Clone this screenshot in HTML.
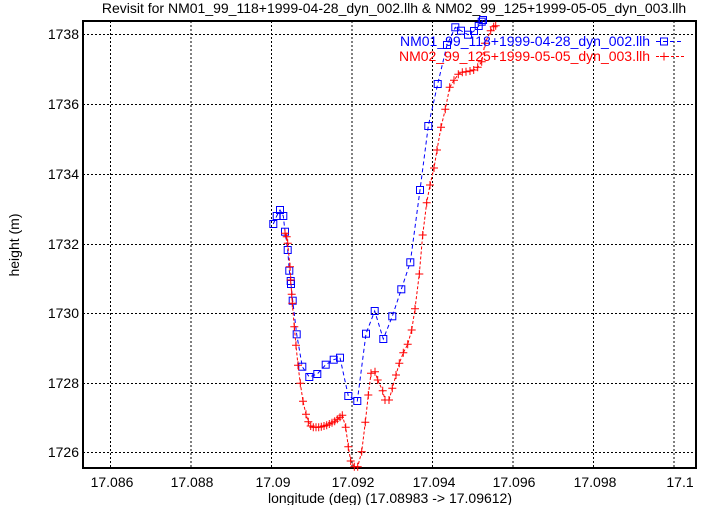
<!DOCTYPE html>
<html><head><meta charset="utf-8"><style>
body{margin:0;background:#fff}
svg{display:block;font-family:"Liberation Sans",sans-serif}
</style></head><body>
<svg width="721" height="505" viewBox="0 0 721 505">
<defs>
<symbol id="sq" overflow="visible"><rect x="-3.5" y="-3.5" width="7" height="7" fill="none" stroke="#0000ff" stroke-width="1"/></symbol>
<symbol id="cr" overflow="visible"><path d="M-4 0H4M0 -4V4" stroke="#ff0000" stroke-width="1"/></symbol>
</defs>
<g stroke="#000" stroke-width="1" stroke-dasharray="2,2" fill="none">
<path d="M110.5 21V468M191 21V468M271.5 21V468M352 21V468M432.5 21V468M513 21V468M593.5 21V468M674 21V468"/>
<path d="M83 34.5H696M83 104.5H696M83 174.5H696M83 244.5H696M83 313.5H696M83 383.5H696M83 452.5H696"/>
</g>
<rect x="83" y="21" width="613" height="447" fill="none" stroke="#000" stroke-width="2"/>
<g font-size="14" text-anchor="end">
<text x="79" y="39">1738</text><text x="79" y="109">1736</text><text x="79" y="179">1734</text><text x="79" y="249">1732</text><text x="79" y="318">1730</text><text x="79" y="388">1728</text><text x="79" y="457">1726</text>
</g>
<g font-size="14" text-anchor="middle">
<text x="112" y="487">17.086</text><text x="192" y="487">17.088</text><text x="273" y="487">17.09</text><text x="353" y="487">17.092</text><text x="434" y="487">17.094</text><text x="514" y="487">17.096</text><text x="595" y="487">17.098</text><text x="680" y="487">17.1</text>
<text x="390" y="503">longitude (deg) (17.08983 -&gt; 17.09612)</text>
<text x="394" y="13">Revisit for NM01_99_118+1999-04-28_dyn_002.llh &amp; NM02_99_125+1999-05-05_dyn_003.llh</text>
<text transform="translate(19,245) rotate(-90)">height (m)</text>
</g>
<polyline fill="none" stroke="#0000ff" stroke-width="1" stroke-dasharray="4,3" points="273.3,224 276.7,216 280,210 283.3,216 285,231.7 287.7,250 289.3,270.7 290.7,281 291,284 292.7,300.7 296.7,334.3 302.3,366.7 309.3,377 317.3,374 325.7,364.7 333.7,359.7 340,357.7 348.3,396 357.3,401 366,333.7 374.7,311 383.3,339 392.3,316.3 401.3,289.3 410.3,262.3 420,190 428.3,126 437.7,84 447,45 455.3,27.3 461,30.7 468,34.7 474,31 478.7,26 481.7,21.7 483,20"/>
<g>
<use href="#sq" x="273.3" y="224"/><use href="#sq" x="276.7" y="216"/><use href="#sq" x="280" y="210"/><use href="#sq" x="283.3" y="216"/><use href="#sq" x="285" y="231.7"/><use href="#sq" x="287.7" y="250"/><use href="#sq" x="289.3" y="270.7"/><use href="#sq" x="290.7" y="281"/><use href="#sq" x="291" y="284"/><use href="#sq" x="292.7" y="300.7"/><use href="#sq" x="296.7" y="334.3"/><use href="#sq" x="302.3" y="366.7"/><use href="#sq" x="309.3" y="377"/><use href="#sq" x="317.3" y="374"/><use href="#sq" x="325.7" y="364.7"/><use href="#sq" x="333.7" y="359.7"/><use href="#sq" x="340" y="357.7"/><use href="#sq" x="348.3" y="396"/><use href="#sq" x="357.3" y="401"/><use href="#sq" x="366" y="333.7"/><use href="#sq" x="374.7" y="311"/><use href="#sq" x="383.3" y="339"/><use href="#sq" x="392.3" y="316.3"/><use href="#sq" x="401.3" y="289.3"/><use href="#sq" x="410.3" y="262.3"/><use href="#sq" x="420" y="190"/><use href="#sq" x="428.3" y="126"/><use href="#sq" x="437.7" y="84"/><use href="#sq" x="447" y="45"/><use href="#sq" x="455.3" y="27.3"/><use href="#sq" x="461" y="30.7"/><use href="#sq" x="468" y="34.7"/><use href="#sq" x="474" y="31"/><use href="#sq" x="478.7" y="26"/><use href="#sq" x="481.7" y="21.7"/><use href="#sq" x="483" y="20"/>
</g>
<polyline fill="none" stroke="#ff0000" stroke-width="1" stroke-dasharray="3,2" points="285,233.3 286.7,236.7 287.7,243.3 290,266.7 290.7,280 291.7,294.3 292.3,303.3 294.3,326.7 296,345.3 298,365.3 300.3,383.3 303,401.3 306,414.3 308.3,421.7 310.7,426 313.3,427.3 316,427.3 318.7,427.3 321.3,426.7 324,426 326.7,425.3 329.3,424 332,422.7 334.7,421.3 337.3,419.3 340,417.3 342.3,415.3 345.7,427.3 348.3,446.7 350.7,461 354.3,466.7 357.7,466.7 361.7,451.7 365.3,422.3 368.3,395 371,373.3 375,371.7 377.7,380 382.7,390.7 385,400 389,400 392.3,388.3 396,375 399.3,363.3 403.3,352.7 407.7,344.3 411.7,330 415,308.7 419.3,274 422.7,235 426.7,202.7 430,185 434,168 437,150 441,127.3 445.3,109.3 449.7,87.3 454,80.3 458.3,74.3 462.3,72.3 466,71.7 470,71 473.7,70 477.7,67.3 481.7,61.7 485,43.3 490.7,30.7 493.7,26.7 495.7,25.7"/>
<g>
<use href="#cr" x="285" y="233.3"/><use href="#cr" x="286.7" y="236.7"/><use href="#cr" x="287.7" y="243.3"/><use href="#cr" x="290" y="266.7"/><use href="#cr" x="290.7" y="280"/><use href="#cr" x="291.7" y="294.3"/><use href="#cr" x="292.3" y="303.3"/><use href="#cr" x="294.3" y="326.7"/><use href="#cr" x="296" y="345.3"/><use href="#cr" x="298" y="365.3"/><use href="#cr" x="300.3" y="383.3"/><use href="#cr" x="303" y="401.3"/><use href="#cr" x="306" y="414.3"/><use href="#cr" x="308.3" y="421.7"/><use href="#cr" x="310.7" y="426"/><use href="#cr" x="313.3" y="427.3"/><use href="#cr" x="316" y="427.3"/><use href="#cr" x="318.7" y="427.3"/><use href="#cr" x="321.3" y="426.7"/><use href="#cr" x="324" y="426"/><use href="#cr" x="326.7" y="425.3"/><use href="#cr" x="329.3" y="424"/><use href="#cr" x="332" y="422.7"/><use href="#cr" x="334.7" y="421.3"/><use href="#cr" x="337.3" y="419.3"/><use href="#cr" x="340" y="417.3"/><use href="#cr" x="342.3" y="415.3"/><use href="#cr" x="345.7" y="427.3"/><use href="#cr" x="348.3" y="446.7"/><use href="#cr" x="350.7" y="461"/><use href="#cr" x="354.3" y="466.7"/><use href="#cr" x="357.7" y="466.7"/><use href="#cr" x="361.7" y="451.7"/><use href="#cr" x="365.3" y="422.3"/><use href="#cr" x="368.3" y="395"/><use href="#cr" x="371" y="373.3"/><use href="#cr" x="375" y="371.7"/><use href="#cr" x="377.7" y="380"/><use href="#cr" x="382.7" y="390.7"/><use href="#cr" x="385" y="400"/><use href="#cr" x="389" y="400"/><use href="#cr" x="392.3" y="388.3"/><use href="#cr" x="396" y="375"/><use href="#cr" x="399.3" y="363.3"/><use href="#cr" x="403.3" y="352.7"/><use href="#cr" x="407.7" y="344.3"/><use href="#cr" x="411.7" y="330"/><use href="#cr" x="415" y="308.7"/><use href="#cr" x="419.3" y="274"/><use href="#cr" x="422.7" y="235"/><use href="#cr" x="426.7" y="202.7"/><use href="#cr" x="430" y="185"/><use href="#cr" x="434" y="168"/><use href="#cr" x="437" y="150"/><use href="#cr" x="441" y="127.3"/><use href="#cr" x="445.3" y="109.3"/><use href="#cr" x="449.7" y="87.3"/><use href="#cr" x="454" y="80.3"/><use href="#cr" x="458.3" y="74.3"/><use href="#cr" x="462.3" y="72.3"/><use href="#cr" x="466" y="71.7"/><use href="#cr" x="470" y="71"/><use href="#cr" x="473.7" y="70"/><use href="#cr" x="477.7" y="67.3"/><use href="#cr" x="481.7" y="61.7"/><use href="#cr" x="485" y="43.3"/><use href="#cr" x="490.7" y="30.7"/><use href="#cr" x="493.7" y="26.7"/><use href="#cr" x="495.7" y="25.7"/>
</g>
<g font-size="14" text-anchor="end">
<text x="650" y="46" fill="#0000ff">NM01_99_118+1999-04-28_dyn_002.llh</text>
<text x="650" y="61" fill="#ff0000">NM02_99_125+1999-05-05_dyn_003.llh</text>
</g>
<path d="M656 41.5H684" stroke="#0000ff" stroke-dasharray="4,3"/>
<use href="#sq" x="664" y="41.5"/>
<path d="M656 56.5H684" stroke="#ff0000" stroke-dasharray="3,2"/>
<use href="#cr" x="664" y="56.5"/>
</svg>
</body></html>
